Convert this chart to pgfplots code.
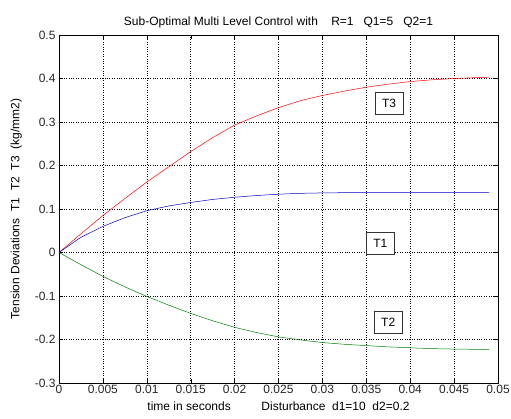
\documentclass[border=0pt]{standalone}
\usepackage{pgfplots}
\pgfplotsset{compat=1.18}
\usepackage{fontspec}
\setmainfont{Liberation Sans}
\begin{document}
\begin{tikzpicture}
\begin{axis}[
  name=ax,
  scale only axis, width=439pt, height=348pt,
  xmin=0, xmax=0.05, ymin=-0.3, ymax=0.5,
  xtick={0,0.005,0.01,0.015,0.02,0.025,0.03,0.035,0.04,0.045,0.05},
  xticklabels={0,0.005,0.01,0.015,0.02,0.025,0.03,0.035,0.04,0.045,0.05},
  ytick={-0.3,-0.2,-0.1,0,0.1,0.2,0.3,0.4,0.5},
  yticklabels={-0.3,-0.2,-0.1,0,0.1,0.2,0.3,0.4,0.5},
  scaled ticks=false,
  tick align=inside, major tick length=4pt,
  tick style={black, line width=0.4pt},
  grid=major,
  major grid style={black, dotted, line width=0.5pt},
  axis line style={black, line width=0.5pt},
  every tick label/.append style={font=\fontsize{12}{14}\selectfont, text=black!85},
  xticklabel style={yshift=1pt},
  yticklabel style={xshift=0pt},
  title={Sub-Optimal Multi Level Control with \ \ \ R=1\ \ \ Q1=5\ \ \ Q2=1},
  title style={font=\fontsize{12}{14}\selectfont, yshift=-3pt},
  xlabel={time in seconds \qquad\ Disturbance\ \ d1=10\ \ d2=0.2},
  ylabel={Tension Deviations\ \ T1\ \ T2\ \ T3\ \ (kg/mm2)},
  xlabel style={font=\fontsize{12}{14}\selectfont, yshift=-1pt},
  ylabel style={font=\fontsize{12}{14}\selectfont, yshift=6pt},
]
\addplot[red, line width=0.5pt] coordinates {
(0,0) (0.0025,0.043) (0.005,0.085) (0.0075,0.124) (0.01,0.162) (0.0125,0.197)
(0.015,0.232) (0.0175,0.264) (0.02,0.293) (0.0225,0.314) (0.025,0.333)
(0.0275,0.349) (0.03,0.361) (0.0325,0.371) (0.035,0.380) (0.0375,0.387)
(0.04,0.393) (0.0425,0.397) (0.045,0.400) (0.0475,0.402) (0.049,0.403)};
\addplot[blue!75!black, line width=0.5pt] coordinates {
(0,0) (0.0025,0.035) (0.005,0.060) (0.0075,0.080) (0.01,0.096) (0.0125,0.107)
(0.015,0.115) (0.0175,0.122) (0.02,0.127) (0.0225,0.131) (0.025,0.134)
(0.0275,0.136) (0.03,0.137) (0.035,0.138) (0.04,0.138) (0.045,0.138) (0.049,0.138)};
\addplot[green!50!black, line width=0.5pt] coordinates {
(0,0) (0.0025,-0.028) (0.005,-0.055) (0.0075,-0.079) (0.01,-0.101) (0.0125,-0.121)
(0.015,-0.140) (0.0175,-0.157) (0.02,-0.172) (0.0225,-0.184) (0.025,-0.194)
(0.0275,-0.201) (0.03,-0.207) (0.0325,-0.211) (0.035,-0.214) (0.0375,-0.217)
(0.04,-0.219) (0.0425,-0.221) (0.045,-0.222) (0.049,-0.223)};
\node[draw=black!80, fill=white, minimum width=28pt, minimum height=22pt, inner sep=1pt, font=\fontsize{12}{14}\selectfont] at (axis cs:0.0376,0.3425) {T3};
\node[draw=black!80, fill=white, minimum width=28pt, minimum height=22pt, inner sep=1pt, font=\fontsize{12}{14}\selectfont] at (axis cs:0.0366,0.021) {T1};
\node[draw=black!80, fill=white, minimum width=28pt, minimum height=22pt, inner sep=1pt, font=\fontsize{12}{14}\selectfont] at (axis cs:0.0375,-0.161) {T2};
\end{axis}
\pgfresetboundingbox
\path ([shift={(-59pt,-36pt)}]ax.south west) rectangle ([shift={(452pt,383pt)}]ax.south west);
\end{tikzpicture}
\end{document}
